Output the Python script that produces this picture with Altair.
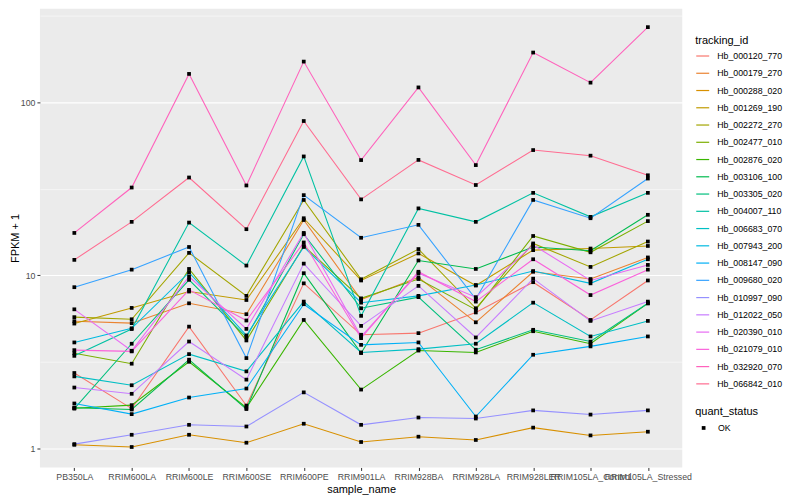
import altair as alt
import pandas as pd

samples = ["PB350LA", "RRIM600LA", "RRIM600LE", "RRIM600SE", "RRIM600PE", "RRIM901LA",
           "RRIM928BA", "RRIM928LA", "RRIM928LER", "RRIM105LA_Control", "RRIM105LA_Stressed"]

tracking_ids = ["Hb_000120_770", "Hb_000179_270", "Hb_000288_020", "Hb_001269_190",
                "Hb_002272_270", "Hb_002477_010", "Hb_002876_020", "Hb_003106_100",
                "Hb_003305_020", "Hb_004007_110", "Hb_006683_070", "Hb_007943_200",
                "Hb_008147_090", "Hb_009680_020", "Hb_010997_090", "Hb_012022_050",
                "Hb_020390_010", "Hb_021079_010", "Hb_032920_070", "Hb_066842_010"]

hb_000120_770 = [2.73, 1.70, 5.06, 1.77, 9.0, 4.54, 4.64, 6.11, 9.14, 5.53, 9.35]
hb_000179_270 = [5.44, 5.30, 6.90, 5.97, 20.9, 7.26, 9.75, 5.36, 10.5, 9.53, 12.7]
hb_000288_020 = [1.05, 1.02, 1.20, 1.08, 1.39, 1.09, 1.17, 1.12, 1.32, 1.19, 1.25]
hb_001269_190 = [5.27, 6.49, 8.07, 7.21, 21.4, 9.35, 13.4, 8.74, 14.0, 14.3, 14.8]
hb_002272_270 = [5.74, 5.58, 13.5, 7.62, 27.3, 9.5, 14.2, 6.46, 15.3, 11.2, 15.7]
hb_002477_010 = [3.55, 3.09, 10.9, 4.21, 14.8, 7.37, 9.53, 6.34, 16.9, 13.6, 20.6]
hb_002876_020 = [1.71, 1.78, 3.17, 1.72, 5.53, 2.19, 3.68, 3.59, 4.76, 4.03, 6.9]
hb_003106_100 = [1.72, 1.68, 3.26, 1.69, 10.3, 3.56, 12.2, 10.9, 14.6, 13.9, 22.4]
hb_003305_020 = [1.70, 4.03, 9.43, 4.40, 17.3, 6.46, 7.49, 3.72, 4.85, 4.15, 6.90]
hb_004007_110 = [3.43, 4.90, 20.2, 11.4, 48.7, 5.84, 24.4, 20.4, 30.0, 21.8, 30.0]
hb_006683_070 = [2.61, 2.32, 3.51, 2.79, 7.06, 3.59, 3.75, 4.03, 6.96, 4.44, 5.46]
hb_007943_200 = [4.10, 4.95, 10.4, 4.50, 14.6, 6.96, 7.62, 8.8, 10.6, 9.0, 12.4]
hb_008147_090 = [1.82, 1.58, 1.97, 2.22, 6.82, 3.97, 4.10, 1.53, 3.48, 3.89, 4.44]
hb_009680_020 = [8.55, 10.8, 14.6, 3.33, 29.1, 16.5, 19.6, 7.3, 27.3, 21.4, 36.3]
hb_010997_090 = [1.06, 1.20, 1.37, 1.34, 2.11, 1.37, 1.51, 1.49, 1.66, 1.57, 1.66]
hb_012022_050 = [2.25, 2.07, 4.15, 2.50, 11.7, 5.11, 8.7, 4.38, 9.58, 5.46, 7.06]
hb_020390_010 = [6.37, 3.67, 9.85, 4.91, 17.6, 4.43, 10.3, 7.49, 15.0, 9.35, 11.5]
hb_021079_010 = [3.70, 3.64, 8.25, 5.49, 15.5, 4.34, 10.5, 7.06, 12.4, 7.70, 10.8]
hb_032920_070 = [17.6, 32.2, 146, 33.1, 172, 46.4, 122, 43.4, 194, 130, 272]
hb_066842_010 = [12.3, 20.4, 36.8, 18.5, 78, 27.5, 46.5, 33.3, 53.0, 49.2, 37.9]

series_values = [hb_000120_770, hb_000179_270, hb_000288_020, hb_001269_190, hb_002272_270,
                 hb_002477_010, hb_002876_020, hb_003106_100, hb_003305_020, hb_004007_110,
                 hb_006683_070, hb_007943_200, hb_008147_090, hb_009680_020, hb_010997_090,
                 hb_012022_050, hb_020390_010, hb_021079_010, hb_032920_070, hb_066842_010]

hue_colors = ["#F8766D", "#EA8331", "#D89000", "#C09B00", "#A3A500", "#7CAE00", "#39B600",
              "#00BB4E", "#00BF7D", "#00C1A3", "#00BFC4", "#00BAE0", "#00B0F6", "#35A2FF",
              "#9590FF", "#C77CFF", "#E76BF3", "#FA62DB", "#FF62BC", "#FF6C91"]

rows = []
for tid, vals in zip(tracking_ids, series_values):
    for s, v in zip(samples, vals):
        rows.append({"tracking_id": tid, "sample_name": s, "value": v, "quant_status": "OK"})
df = pd.DataFrame(rows)

FONT = "Liberation Sans"
major_test = "datum.value == 1 || datum.value == 10 || datum.value == 100"

x_enc = alt.X("sample_name:N", sort=samples, title="sample_name",
              scale=alt.Scale(type="point", padding=0.6),
              axis=alt.Axis(labelAngle=0, labelFontSize=8.8, labelColor="#4D4D4D", labelFont=FONT,
                            tickColor="#333333", tickSize=3, labelPadding=2, domain=False,
                            gridColor="white", gridWidth=1.07, titleFont=FONT, titleFontSize=11,
                            titleFontWeight="normal", titleColor="black", titlePadding=2,
                            labelOverlap=False))
y_enc = alt.Y("value:Q", title="FPKM + 1",
              scale=alt.Scale(type="log", domain=[0.777, 348], nice=False, zero=False),
              axis=alt.Axis(values=[1, 3.1623, 10, 31.623, 100, 316.23],
                            labelExpr="datum.value == 1 ? '1' : datum.value == 10 ? '10' : datum.value == 100 ? '100' : ''",
                            labelFontSize=8.8, labelColor="#4D4D4D", labelFont=FONT,
                            tickColor={"condition": {"test": major_test, "value": "#333333"}, "value": "transparent"},
                            tickSize=3, labelPadding=2, domain=False,
                            gridColor="white",
                            gridWidth={"condition": {"test": major_test, "value": 1.07}, "value": 0.53},
                            titleFont=FONT, titleFontSize=11, titleFontWeight="normal",
                            titleColor="black", titlePadding=0))

lines = alt.Chart(df).mark_line(strokeWidth=1.07).encode(
    x=x_enc, y=y_enc,
    color=alt.Color("tracking_id:N", scale=alt.Scale(domain=tracking_ids, range=hue_colors),
                    legend=alt.Legend(orient="none", legendX=657, legendY=26, title="tracking_id",
                                      symbolType="stroke", symbolSize=169, symbolStrokeWidth=1.2,
                                      labelFontSize=8.8, labelFont=FONT, labelColor="black",
                                      labelOffset=7,
                                      titleFontSize=11, titleFont=FONT, titleFontWeight="normal",
                                      titleColor="black", rowPadding=4.3, titlePadding=3)),
    detail="tracking_id:N",
)

points = alt.Chart(df).mark_point(filled=True, size=14, opacity=1).encode(
    x=alt.X("sample_name:N", sort=samples),
    y=alt.Y("value:Q"),
    shape=alt.Shape("quant_status:N", scale=alt.Scale(range=["square"]),
                    legend=alt.Legend(orient="none", legendX=657, legendY=398, title="quant_status",
                                      symbolSize=14, symbolFillColor="black", symbolStrokeColor="black",
                                      labelFontSize=8.8, labelFont=FONT, labelColor="black",
                                      labelOffset=10, symbolOffset=4,
                                      titleFontSize=11, titleFont=FONT, titleFontWeight="normal",
                                      titleColor="black", titlePadding=7)),
    color=alt.value("black"),
)

chart = alt.layer(lines, points).properties(
    width=644, height=460,
    autosize=alt.AutoSizeParams(type="none"),
    padding={"left": 32, "top": 0, "right": 110, "bottom": 32},
).configure_view(fill="#EBEBEB", stroke=None)

chart.save("out.html", embed_options={"renderer": "svg", "actions": False})
